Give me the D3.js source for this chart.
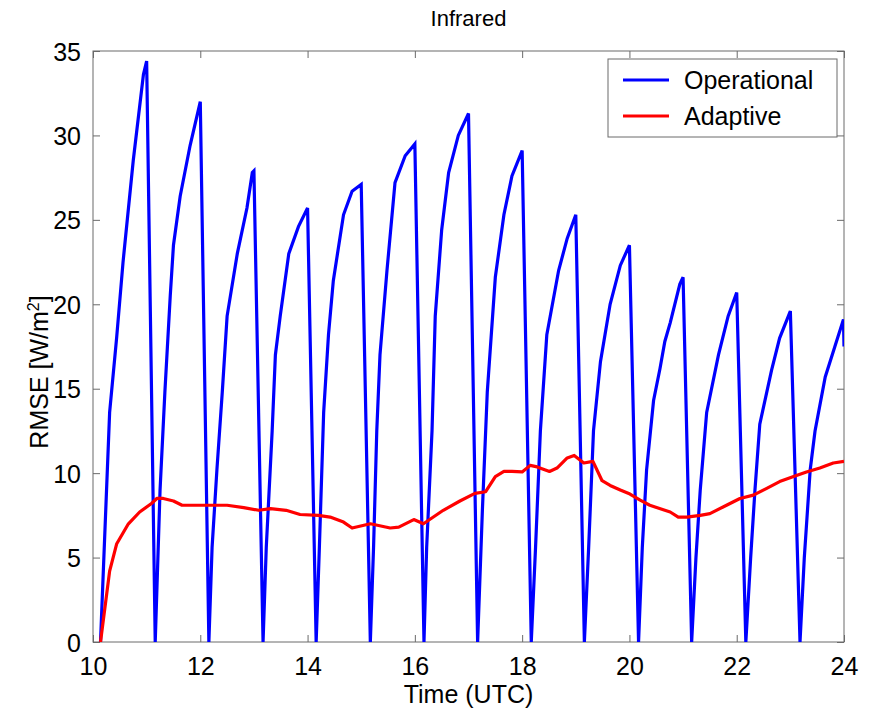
<!DOCTYPE html>
<html>
<head>
<meta charset="utf-8">
<script src="https://cdn.jsdelivr.net/npm/d3@7"></script>
<style>
  html, body { margin: 0; padding: 0; background: #fff; }
  svg { display: block; font-family: "Liberation Sans", Arial, Helvetica, sans-serif; }
</style>
</head>
<body>
<svg id="chart" width="873" height="715"></svg>
<script>
// Operational run: RMSE rebuilds through each hour and collapses after every hourly update
const opTime = [
  10.14, 10.31, 10.44, 10.56, 10.75, 10.94, 11.00,
  11.16, 11.25, 11.34, 11.44, 11.50, 11.625, 11.81, 12.00,
  12.16, 12.22, 12.31, 12.41, 12.50, 12.69, 12.87, 12.97, 13.00,
  13.17, 13.23, 13.34, 13.40, 13.49, 13.65, 13.83, 14.00,
  14.16, 14.22, 14.30, 14.39, 14.48, 14.67, 14.83, 15.00,
  15.17, 15.23, 15.29, 15.35, 15.48, 15.63, 15.82, 16.00,
  16.17, 16.22, 16.32, 16.38, 16.50, 16.63, 16.81, 17.00,
  17.17, 17.26, 17.35, 17.50, 17.66, 17.81, 18.00,
  18.17, 18.25, 18.34, 18.46, 18.68, 18.84, 19.00,
  19.16, 19.24, 19.33, 19.46, 19.64, 19.83, 20.00,
  20.17, 20.24, 20.32, 20.45, 20.57, 20.66, 20.76, 20.94, 21.00,
  21.16, 21.24, 21.32, 21.44, 21.66, 21.84, 22.00,
  22.17, 22.26, 22.34, 22.43, 22.65, 22.80, 23.00,
  23.18, 23.26, 23.37, 23.46, 23.65, 23.83, 23.99, 24.00
];
const opRmse = [
  0, 13.6, 18.0, 22.5, 28.5, 33.6, 34.4,
  0, 9.0, 14.8, 20.5, 23.5, 26.4, 29.4, 32.0,
  0, 5.6, 10.2, 14.8, 19.3, 23.0, 25.7, 27.8, 27.9,
  0, 5.6, 12.5, 17.0, 19.3, 23.0, 24.6, 25.7,
  0, 5.6, 13.6, 18.2, 21.4, 25.3, 26.7, 27.1,
  0, 5.6, 12.5, 17.0, 22.0, 27.2, 28.8, 29.5,
  0, 5.6, 12.5, 19.3, 24.4, 27.8, 30.0, 31.3,
  0, 7.9, 14.8, 21.6, 25.3, 27.6, 29.1,
  0, 5.6, 12.5, 18.2, 22.0, 23.9, 25.3,
  0, 5.6, 12.5, 16.6, 20.0, 22.3, 23.5,
  0, 5.6, 10.2, 14.3, 16.2, 17.8, 18.9, 21.2, 21.6,
  0, 5.0, 9.0, 13.6, 17.0, 19.3, 20.7,
  0, 5.0, 9.0, 12.9, 16.1, 18.0, 19.6,
  0, 5.0, 10.2, 12.5, 15.7, 17.5, 19.1, 17.5
];

// Adaptive run: smooth, slowly varying RMSE
const adTime = [
  10.14, 10.31, 10.44, 10.66, 10.87, 11.09, 11.19, 11.31, 11.50, 11.66,
  11.94, 12.25, 12.50, 12.81, 13.09, 13.31, 13.60, 13.86, 14.20, 14.42,
  14.67, 14.83, 15.17, 15.54, 15.70, 15.98, 16.16, 16.53, 16.84, 17.12,
  17.32, 17.50, 17.66, 17.81, 18.00, 18.15, 18.28, 18.51, 18.65, 18.84,
  18.97, 19.15, 19.32, 19.49, 19.64, 19.83, 20.01, 20.20, 20.38, 20.66,
  20.76, 20.91, 21.07, 21.32, 21.50, 21.81, 22.06, 22.31, 22.56, 22.80,
  23.06, 23.30, 23.55, 23.80, 24.00
];
const adRmse = [
  0, 4.2, 5.8, 7.0, 7.7, 8.2, 8.5, 8.5, 8.35, 8.1,
  8.1, 8.1, 8.1, 7.96, 7.8, 7.9, 7.8, 7.55, 7.5, 7.4,
  7.1, 6.75, 7.0, 6.75, 6.8, 7.25, 7.0, 7.8, 8.35, 8.8,
  8.9, 9.8, 10.1, 10.1, 10.07, 10.46, 10.37, 10.1, 10.3, 10.9,
  11.05, 10.6, 10.7, 9.55, 9.27, 9.0, 8.76, 8.4, 8.1, 7.8,
  7.7, 7.4, 7.4, 7.5, 7.6, 8.1, 8.5, 8.7, 9.1, 9.5,
  9.8, 10.07, 10.3, 10.6, 10.7
];

const xTicks = [10, 12, 14, 16, 18, 20, 22, 24];
const yTicks = [0, 5, 10, 15, 20, 25, 30, 35];
const seriesNames = ["Operational", "Adaptive"];
const seriesColors = ["#0000ff", "#ff0000"];

const svg = d3.select("#chart");
const plotLeft = 93, plotRight = 844, plotTop = 51, plotBottom = 642;
const fontSize = 25;

const x = d3.scaleLinear().domain([10, 24]).range([plotLeft, plotRight]);
const y = d3.scaleLinear().domain([0, 35]).range([plotBottom, plotTop]);

// clip the traces to the axes box
svg.append("defs").append("clipPath").attr("id", "plotClip")
  .append("rect").attr("x", plotLeft).attr("y", plotTop)
  .attr("width", plotRight - plotLeft).attr("height", plotBottom - plotTop);

const axisColor = "#6a6a6a";
function styleAxis(g, showLabels) {
  g.select(".domain").remove();
  g.selectAll(".tick line").attr("stroke", axisColor).attr("stroke-width", 1);
  g.selectAll(".tick text")
    .attr("fill", "#000")
    .style("font-size", fontSize + "px")
    .style("display", showLabels ? null : "none");
}

// bottom axis with labels, ticks pointing inward
svg.append("g").attr("transform", `translate(0,${plotBottom})`)
  .call(d3.axisBottom(x).tickValues(xTicks).tickSize(-7).tickPadding(15).tickFormat(d3.format("d")))
  .call(g => styleAxis(g, true))
  .call(g => g.selectAll(".tick text").attr("dy", "0.71em"));

svg.append("g").attr("transform", `translate(0,${plotTop})`)
  .call(d3.axisTop(x).tickValues(xTicks).tickSize(-7).tickFormat(""))
  .call(g => styleAxis(g, false));

svg.append("g").attr("transform", `translate(${plotLeft},0)`)
  .call(d3.axisLeft(y).tickValues(yTicks).tickSize(-7).tickPadding(12).tickFormat(d3.format("d")))
  .call(g => styleAxis(g, true))
  .call(g => g.selectAll(".tick text").attr("dy", "0.36em"));

svg.append("g").attr("transform", `translate(${plotRight},0)`)
  .call(d3.axisRight(y).tickValues(yTicks).tickSize(-7).tickFormat(""))
  .call(g => styleAxis(g, false));

// axes box
svg.append("rect")
  .attr("x", plotLeft).attr("y", plotTop)
  .attr("width", plotRight - plotLeft).attr("height", plotBottom - plotTop)
  .attr("fill", "none").attr("stroke", axisColor).attr("stroke-width", 1);

const line = d3.line().x(d => x(d[0])).y(d => y(d[1]));
const plot = svg.append("g").attr("clip-path", "url(#plotClip)");

plot.append("path")
  .datum(d3.zip(opTime, opRmse))
  .attr("d", line)
  .attr("fill", "none").attr("stroke", seriesColors[0])
  .attr("stroke-width", 3.2).attr("stroke-linejoin", "miter").attr("stroke-miterlimit", 4);

plot.append("path")
  .datum(d3.zip(adTime, adRmse))
  .attr("d", line)
  .attr("fill", "none").attr("stroke", seriesColors[1])
  .attr("stroke-width", 3.2).attr("stroke-linejoin", "round");

// title
svg.append("text")
  .attr("x", (plotLeft + plotRight) / 2).attr("y", 26)
  .attr("text-anchor", "middle")
  .style("font-size", "22px")
  .text("Infrared");

// x label
svg.append("text")
  .attr("x", (plotLeft + plotRight) / 2).attr("y", 703)
  .attr("text-anchor", "middle")
  .style("font-size", fontSize + "px")
  .text("Time (UTC)");

// y label with superscript
const yLab = svg.append("text")
  .attr("transform", `translate(48,372) rotate(-90)`)
  .attr("text-anchor", "middle")
  .style("font-size", fontSize + "px");
yLab.append("tspan").text("RMSE [W/m");
yLab.append("tspan").attr("dy", -9).style("font-size", "16px").text("2");
yLab.append("tspan").attr("dy", 9).text("]");

// legend
const legend = svg.append("g");
legend.append("rect")
  .attr("x", 608).attr("y", 59).attr("width", 229).attr("height", 78)
  .attr("fill", "#fff").attr("stroke", axisColor).attr("stroke-width", 1);
seriesNames.forEach((name, i) => {
  const ly = 80 + i * 36;
  legend.append("line")
    .attr("x1", 623).attr("x2", 669).attr("y1", ly).attr("y2", ly)
    .attr("stroke", seriesColors[i]).attr("stroke-width", 3);
  legend.append("text")
    .attr("x", 684).attr("y", ly).attr("dy", "0.36em")
    .style("font-size", fontSize + "px")
    .text(name);
});
</script>
</body>
</html>
